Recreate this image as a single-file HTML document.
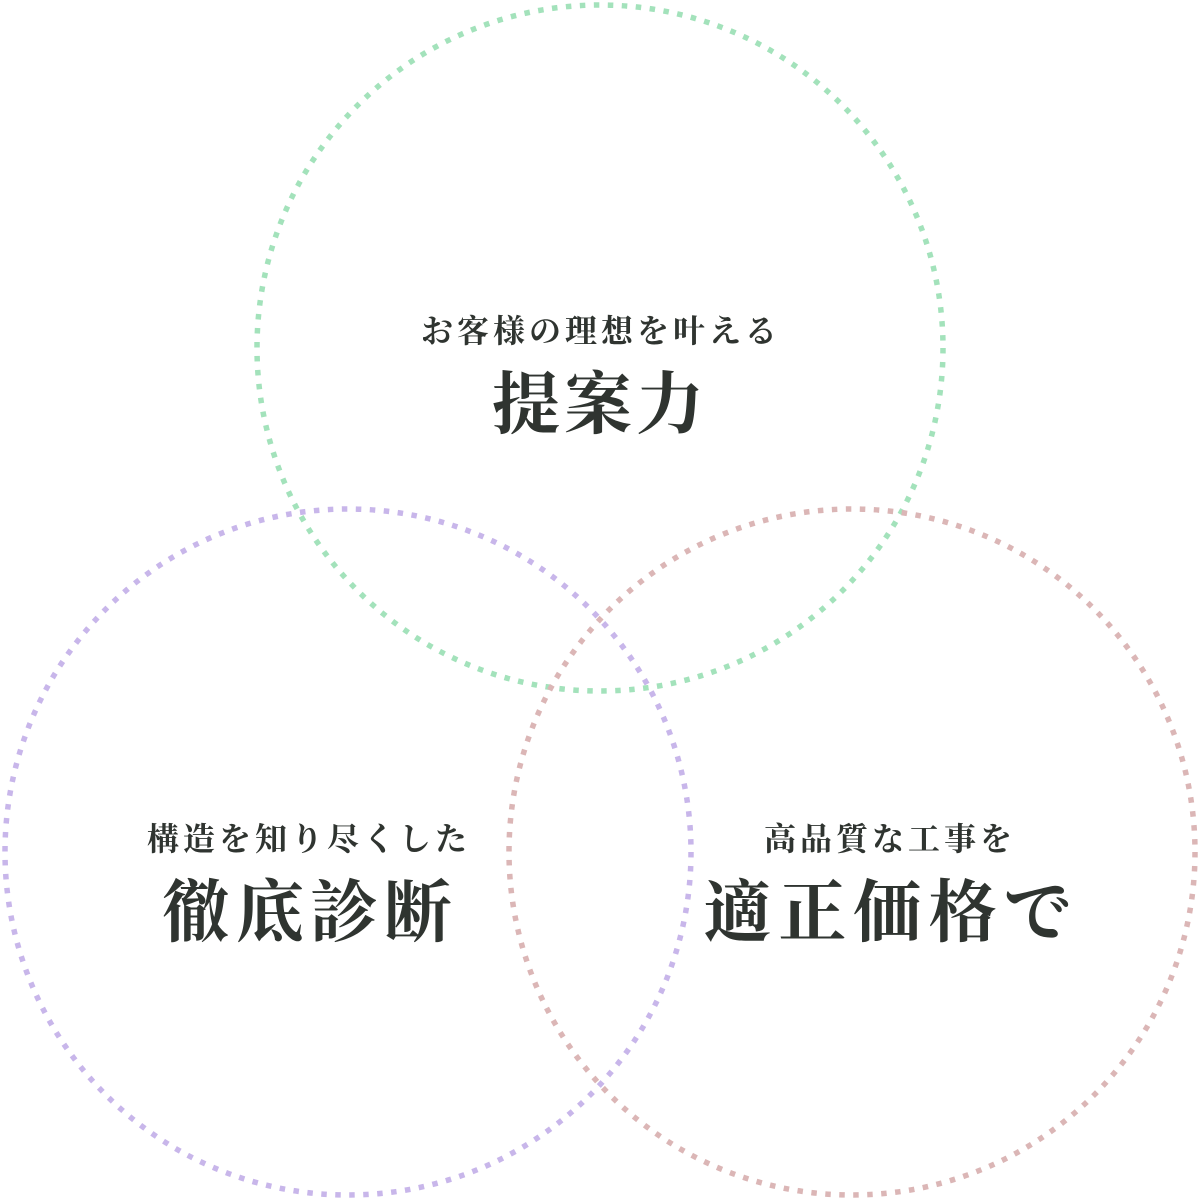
<!DOCTYPE html>
<html><head><meta charset="utf-8"><style>
html,body{margin:0;padding:0;background:#fff;width:1200px;height:1200px;overflow:hidden}
text{font-family:"Liberation Serif","Noto Serif CJK SC","Noto Serif CJK JP",serif;font-weight:bold;fill:#2f3430}
</style></head><body>
<svg width="1200" height="1200" viewBox="0 0 1200 1200" xmlns="http://www.w3.org/2000/svg">
<circle cx="600" cy="348" r="343" fill="none" stroke="#a3e2bb" stroke-width="5.5" stroke-dasharray="5.5 8.5"/>
<circle cx="348" cy="852" r="343" fill="none" stroke="#c8b6ea" stroke-width="5.5" stroke-dasharray="5.5 8.5"/>
<circle cx="852" cy="852" r="343" fill="none" stroke="#dbb6b6" stroke-width="5.5" stroke-dasharray="5.5 8.5"/>
<text x="601" y="342" text-anchor="middle" font-size="32" letter-spacing="4">お客様の理想を叶える</text>
<text x="600" y="428" text-anchor="middle" font-size="68" letter-spacing="4">提案力</text>
<text x="309" y="850" text-anchor="middle" font-size="32" letter-spacing="4">構造を知り尽くした</text>
<text x="310" y="936" text-anchor="middle" font-size="68" letter-spacing="6">徹底診断</text>
<text x="890" y="850" text-anchor="middle" font-size="32" letter-spacing="4">高品質な工事を</text>
<text x="891" y="936" text-anchor="middle" font-size="68" letter-spacing="7">適正価格で</text>
</svg>
</body></html>
